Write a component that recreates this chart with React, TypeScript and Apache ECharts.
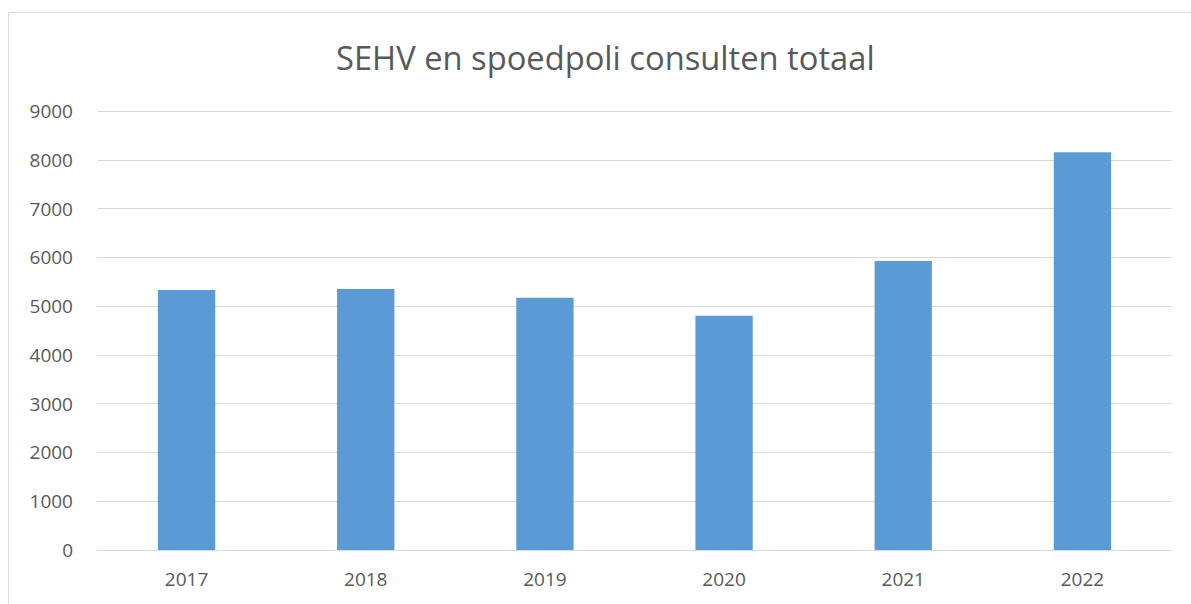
import React, { useEffect, useRef } from "react";
import * as echarts from "echarts";

const categories = ["2017", "2018", "2019", "2020", "2021", "2022"];
const values = [5330, 5350, 5170, 4800, 5925, 8155];
const titleText = "SEHV en spoedpoli consulten totaal";

export default function App() {
  const ref = useRef<HTMLDivElement>(null);
  useEffect(() => {
    if (!ref.current) return;
    const chart = echarts.init(ref.current, undefined, { renderer: "svg" });
    const font = "'Open Sans', 'Noto Sans', sans-serif";
    chart.setOption({
      animation: false,
      backgroundColor: "#ffffff",
      title: {
        text: titleText,
        left: 331,
        top: 36,
        textStyle: { fontFamily: font, fontSize: 32.7, fontWeight: "normal", color: "#595959" },
      },
      graphic: [
        {
          type: "rect",
          shape: { x: 8.5, y: 12.5, width: 1300, height: 800 },
          style: { fill: "none", stroke: "#D9D9D9", lineWidth: 1 },
          silent: true,
        },
      ],
      grid: { left: 97, right: 19, top: 111, bottom: 54, containLabel: false },
      xAxis: {
        type: "category",
        data: categories,
        axisLine: { show: true, lineStyle: { color: "#D9D9D9", width: 1 } },
        axisTick: { show: false },
        axisLabel: { color: "#595959", fontFamily: font, fontSize: 19, margin: 19 },
      },
      yAxis: {
        type: "value",
        min: 0,
        max: 9000,
        interval: 1000,
        axisLine: { show: false },
        axisTick: { show: false },
        splitLine: { lineStyle: { color: "#D9D9D9", width: 1 } },
        axisLabel: {
          color: "#595959",
          fontFamily: font,
          fontSize: 19,
          margin: 24,
          formatter: (v: number) => String(v),
        },
      },
      series: [
        {
          type: "bar",
          data: values,
          barWidth: "32%",
          itemStyle: { color: "#5B9BD5" },
        },
      ],
    });
    return () => chart.dispose();
  }, []);
  return (
    <div
      ref={ref}
      style={{ position: "absolute", left: 0, top: 0, width: 1191, height: 604 }}
    />
  );
}
